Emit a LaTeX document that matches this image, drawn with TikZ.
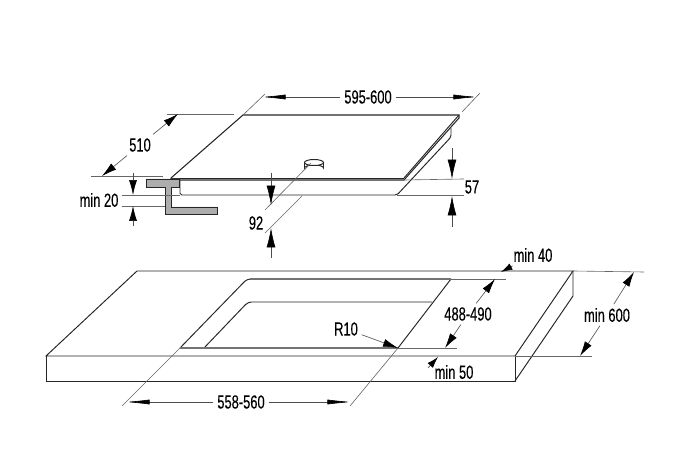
\documentclass[tikz,border=0pt]{standalone}
\usepackage{fontspec}
\setmainfont[FakeStretch=0.68,FakeBold=0.25]{Liberation Sans}
\usetikzlibrary{arrows.meta}
\usetikzlibrary{positioning}
\tikzset{
  outline/.style={line width=.55pt, black!85},
  glass/.style={line width=.6pt, black!85},
  gray_edge/.style={line width=1.1pt, black!55},
  ext/.style={line width=.35pt, black!60},
  dim/.style={line width=.35pt, black!70, -{Latex[black,length=11pt,width=5pt]}},
  dim_diag/.style={line width=.35pt, black!70, -{Latex[black,length=8.5pt,width=4.5pt]}},
  dim_short/.style={line width=.35pt, black!70, -{Latex[black,length=6.5pt,width=4pt]}},
  dim_long/.style={line width=.35pt, black!70, -{Latex[black,length=14pt,width=2.8pt]}},
  lbl/.style={inner sep=2pt, font=\fontsize{10.8}{12}\selectfont},
}
\begin{document}
\begin{tikzpicture}[x=.02cm, y=-.02cm, >=latex]
       \useasboundingbox (0,0) rectangle (683,475);

       % hob
       \coordinate (Hob_A) at (171,178);
       \coordinate (Hob_B) at (243,115);
       \coordinate (Hob_C) at (459,115);
       \coordinate (Hob_D) at (404,178);
       \coordinate (Hob_E) at (404,180);
       \coordinate (Hob_F) at (459,118);
       \coordinate (Box_A) at (180,180);
       \coordinate (Box_B) at (180,195);
       \coordinate (Box_C) at (397,195);
       \coordinate (Box_D) at (451,137);
       \coordinate (Box_E) at (451,128);
       \coordinate (Box_F) at (171,180);
       \draw[glass] (Hob_A) -- (Hob_B) -- (Hob_C) -- (Hob_F) -- (Hob_E) -- (Box_F) -- cycle;
       \draw[outline] (Hob_D) -- (Hob_C);
       \draw[outline] (Hob_A) -- (Hob_D);
       \draw[outline, rounded corners=1pt] (Box_A) -- (Box_B) -- (Box_C) -- (Box_D) -- (Box_E);

       % bracket
       \filldraw[outline, fill=black!32] (146,179) -- (179,179) -- (179,187) -- (171,187) -- (171,207)
         -- (217,207) -- (217,214) -- (165,214) -- (165,187) -- (146,187) -- cycle;

       % knob
       \draw[outline, fill=white] (304.5,163) -- (304.5,168) arc[start angle=180, end angle=360, x radius=9.5, y radius=3]
         -- (323.5,163);
       \draw[outline, fill=white] (314,162.5) ellipse [x radius=9.5, y radius=3];

       % worktop
       \coordinate (Top_A) at (46,356);
       \coordinate (Top_B) at (137,271);
       \coordinate (Top_C) at (573,271);
       \coordinate (Top_D) at (515,356);
       \coordinate (Top_E) at (46,381);
       \coordinate (Top_F) at (515,381);
       \coordinate (Top_G) at (573,296);
       \draw[outline] (Top_A) -- (Top_B) -- (Top_C) -- (Top_D) -- cycle;
       \draw[outline] (Top_A) -- (Top_E) -- (Top_F) -- (Top_D);
       \draw[outline] (Top_F) -- (Top_G) -- (Top_C);

       % cut-out
       \coordinate (Cut_A) at (180,348);
       \coordinate (Cut_B) at (247,279);
       \coordinate (Cut_C) at (451,279);
       \coordinate (Cut_D) at (398,348);
       \coordinate (Cut_E) at (204,348);
       \coordinate (Cut_F) at (248,302);
       \coordinate (Cut_G) at (432,302);
       \draw[outline, rounded corners=2pt] (Cut_A) -- (Cut_B) -- (Cut_C);
       \draw[outline, rounded corners=2pt] (Cut_E) -- (Cut_F) -- (Cut_G);
       \draw[outline] (Cut_C) -- (Cut_D);
       \draw[gray_edge] (Cut_A) -- (Cut_D);
       \draw[gray_edge] (Cut_B) ++(3,0) -- (Cut_C);

       % 595-600
       \node[lbl] (Lbl_595) at (368,97) {595-600};
       \coordinate (Tip_595a) at (261,97);
       \coordinate (Tip_595b) at (478,97);
       \path (Hob_B) ++(22,-21) coordinate (Ext_595a);
       \path (Hob_C) ++(21,-22) coordinate (Ext_595b);
       \draw[ext] (Hob_B) -- (Ext_595a);
       \draw[ext] (462,112) -- (Ext_595b);
       \draw[dim_long] (Lbl_595) -- (Tip_595a);
       \draw[dim_long] (Lbl_595) -- (Tip_595b);

       % 510
       \node[lbl] (Lbl_510) at (140,145) {510};
       \coordinate (Tip_510a) at (178,114);
       \coordinate (Tip_510b) at (102,176);
       \draw[ext] (167,114) -- (234,114);
       \draw[ext] (91,176) -- (163,176);
       \draw[dim_diag] (Lbl_510) -- (Tip_510a);
       \draw[dim_diag] (Lbl_510) -- (Tip_510b);

       % min 20
       \node[lbl] (Lbl_20) at (99,200) {min 20};
       \draw[ext] (122,195) -- (Box_B);
       \draw[ext] (122,206) -- (165,206);
       \coordinate (Start_20a) at (133,173);
       \coordinate (Tip_20a) at (133,195);
       \coordinate (Start_20b) at (133,226);
       \coordinate (Tip_20b) at (133,206);
       \draw[dim_diag] (Start_20a) -- (Tip_20a);
       \draw[dim_diag] (Start_20b) -- (Tip_20b);

       % 92
       \node[lbl] (Lbl_92) at (256,223) {92};
       \coordinate (Ext_92a) at (265,210);
       \coordinate (Ext_92b) at (265,233);
       \draw[ext] (311,163) -- (Ext_92a);
       \draw[ext] (302,196) -- (Ext_92b);
       \coordinate (Start_92a) at (271,173);
       \coordinate (Tip_92a) at (271,205);
       \coordinate (Start_92b) at (271,258);
       \coordinate (Tip_92b) at (271,228);
       \draw[dim] (Start_92a) -- (Tip_92a);
       \draw[dim] (Start_92b) -- (Tip_92b);

       % 57
       \node[lbl] (Lbl_57) at (472,187) {57};
       \draw[ext] (Hob_E) -- (464,179);
       \draw[ext] (Box_C) -- (464,195);
       \coordinate (Start_57a) at (452,148);
       \coordinate (Tip_57a) at (452,179);
       \coordinate (Start_57b) at (452,227);
       \coordinate (Tip_57b) at (452,196);
       \draw[dim] (Start_57a) -- (Tip_57a);
       \draw[dim] (Start_57b) -- (Tip_57b);

       % 558-560
       \node[lbl] (Lbl_558) at (241,402) {558-560};
       \coordinate (Tip_558a) at (125,402);
       \coordinate (Tip_558b) at (352,402);
       \coordinate (Ext_558a) at (122,406);
       \coordinate (Ext_558b) at (350,406);
       \draw[ext] (Cut_A) -- (Ext_558a);
       \draw[ext] (Cut_D) -- (Ext_558b);
       \draw[dim_long] (Lbl_558) -- (Tip_558a);
       \draw[dim_long] (Lbl_558) -- (Tip_558b);

       % 488-490
       \node[lbl] (Lbl_488) at (468,314) {488-490};
       \coordinate (Tip_488a) at (495,279);
       \coordinate (Tip_488b) at (445,348);
       \draw[ext] (Cut_C) -- (506,279);
       \draw[ext] (Cut_D) -- (457,348);
       \draw[dim_diag] (Lbl_488) -- (Tip_488a);
       \draw[dim_diag] (Lbl_488) -- (Tip_488b);

       % R10
       \node[lbl] (Lbl_R10) at (346,329) {R10};
       \draw[dim_diag] (Lbl_R10) -- (Cut_D);

       % min 40
       \node[lbl] (Lbl_40) at (533,255) {min 40};
       \coordinate (Tip_40) at (501,272);
       \draw[dim_short] (Lbl_40) -- (Tip_40);

       % min 50
       \node[lbl] (Lbl_50) at (454,372) {min 50};
       \coordinate (Start_50) at (428,368);
       \coordinate (Tip_50) at (438,357);
       \draw[dim_short] (Start_50) -- (Tip_50);

       % min 600
       \node[lbl] (Lbl_600) at (607,315) {min 600};
       \coordinate (Tip_600a) at (634,272);
       \coordinate (Tip_600b) at (580,356);
       \draw[ext] (Top_C) -- (644,272);
       \draw[ext] (Top_D) -- (592,356);
       \draw[dim_diag] (Lbl_600) -- (Tip_600a);
       \draw[dim_diag] (Lbl_600) -- (Tip_600b);
\end{tikzpicture}
\end{document}
